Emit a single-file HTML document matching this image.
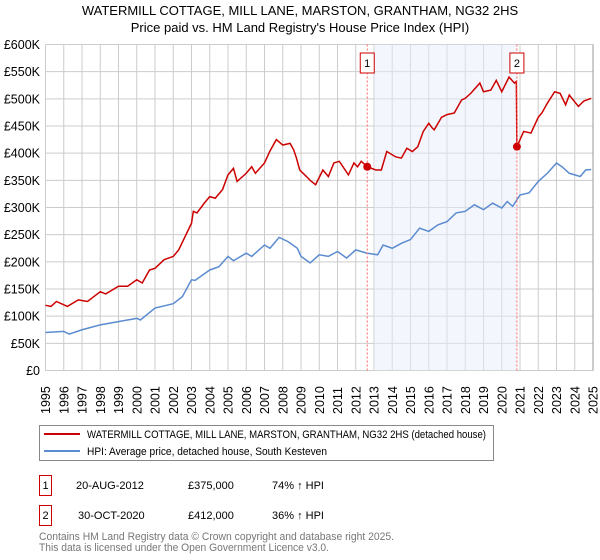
<!DOCTYPE html>
<html><head><meta charset="utf-8"><style>
body{margin:0;background:#fff;}
svg{display:block;font-family:"Liberation Sans",sans-serif;}
</style></head><body>
<svg id="chart" width="600" height="560" viewBox="0 0 600 560" xmlns="http://www.w3.org/2000/svg">
<text x="300" y="15" text-anchor="middle" font-size="13" fill="#000">WATERMILL COTTAGE, MILL LANE, MARSTON, GRANTHAM, NG32 2HS</text>
<text x="300" y="32" text-anchor="middle" font-size="13" fill="#000">Price paid vs. HM Land Registry's House Price Index (HPI)</text>
<g id="grid"></g>
<g id="shade"></g>
<g id="series"></g>
<g id="axes"></g>

<g>
<rect x="39.5" y="425.5" width="454" height="35" fill="#fff" stroke="#888"/>
<line x1="44" y1="434" x2="80" y2="434" stroke="#cc0000" stroke-width="2"/>
<text x="87" y="438" font-size="11" textLength="399" lengthAdjust="spacingAndGlyphs">WATERMILL COTTAGE, MILL LANE, MARSTON, GRANTHAM, NG32 2HS (detached house)</text>
<line x1="44" y1="451" x2="80" y2="451" stroke="#5b8bd0" stroke-width="2"/>
<text x="87" y="455" font-size="11" textLength="240" lengthAdjust="spacingAndGlyphs">HPI: Average price, detached house, South Kesteven</text>
</g>

<g font-size="11">
<rect x="39.5" y="475.5" width="12" height="20" fill="#fff" stroke="#cc0000"/>
<text x="45.5" y="489" text-anchor="middle">1</text>
<text x="76" y="489">20-AUG-2012</text>
<text x="188" y="489">£375,000</text>
<text x="272" y="489">74% ↑ HPI</text>
<rect x="39.5" y="505.5" width="12" height="20" fill="#fff" stroke="#cc0000"/>
<text x="45.5" y="519" text-anchor="middle">2</text>
<text x="78" y="519">30-OCT-2020</text>
<text x="188" y="519">£412,000</text>
<text x="272" y="519">36% ↑ HPI</text>
</g>
<text x="39" y="540" font-size="11" fill="#777" textLength="355" lengthAdjust="spacingAndGlyphs">Contains HM Land Registry data © Crown copyright and database right 2025.</text>
<text x="39" y="551" font-size="11" fill="#777" textLength="290" lengthAdjust="spacingAndGlyphs">This data is licensed under the Open Government Licence v3.0.</text>
</svg>
<script>
const yTicks=[0,50,100,150,200,250,300,350,400,450,500,550,600];
const yTickLabels=["£0","£50K","£100K","£150K","£200K","£250K","£300K","£350K","£400K","£450K","£500K","£550K","£600K"];
const years=[1995,1996,1997,1998,1999,2000,2001,2002,2003,2004,2005,2006,2007,2008,2009,2010,2011,2012,2013,2014,2015,2016,2017,2018,2019,2020,2021,2022,2023,2024,2025];
const hpiT=[1995,1996,1996.3,1997,1998,1999,2000,2000.2,2001,2002,2002.5,2003,2003.2,2004,2004.5,2005,2005.3,2006,2006.3,2007,2007.3,2007.8,2008.3,2008.8,2009,2009.5,2010,2010.5,2011,2011.5,2012,2012.6,2013.2,2013.5,2014,2014.5,2015,2015.5,2016,2016.5,2017,2017.5,2018,2018.5,2019,2019.5,2020,2020.3,2020.6,2021,2021.5,2022,2022.5,2023,2023.3,2023.7,2024,2024.3,2024.6,2024.9];
const hpiV=[70,72,67,75,84,90,96,93,115,123,136,167,166,185,191,210,202,216,210,231,225,245,237,225,210,198,213,210,219,207,222,216,213,231,225,234,241,262,256,268,274,290,293,305,296,308,299,311,302,323,327,348,363,382,375,363,360,357,369,370];
const propT=[1995,1995.3,1995.6,1996.2,1996.8,1997.3,1998,1998.3,1999,1999.5,2000,2000.3,2000.7,2001,2001.5,2002,2002.3,2003,2003.1,2003.3,2003.7,2004,2004.3,2004.7,2005,2005.3,2005.5,2006,2006.3,2006.5,2007,2007.3,2007.65,2008,2008.4,2008.6,2008.75,2008.93,2009.3,2009.5,2009.8,2010.2,2010.5,2010.8,2011.1,2011.6,2011.9,2012.1,2012.3,2012.63,2013.1,2013.4,2013.7,2014.2,2014.5,2014.8,2015.1,2015.4,2015.7,2016.0,2016.2,2016.3,2016.7,2017.0,2017.4,2017.8,2018.0,2018.3,2018.8,2019.0,2019.4,2019.7,2020.0,2020.4,2020.7,2020.8,2020.83,2021.2,2021.6,2022.0,2022.2,2022.5,2022.9,2023.2,2023.5,2023.7,2024.2,2024.5,2024.9];
const propV=[120,118,127,118,130,127,145,141,155,155,167,161,185,188,204,210,222,271,293,290,308,320,317,333,360,372,348,363,375,363,382,404,425,415,418,406,391,369,357,350,342,369,357,382,385,360,382,375,385,375,369,369,403,393,391,409,403,412,440,455,446,443,466,471,474,498,501,510,529,513,516,534,513,540,529,532,412,440,437,466,474,492,513,510,489,507,486,496,501];
const saleT=[2012.63,2020.83];
const saleV=[375,412];
const saleLabels=["1","2"];
const shadeFrom=2013.0, shadeTo=2020.83;

const X0=45.5,X1=593,Y0=370.5,Y1=44.5;
const x=t=>X0+(t-1995)/(2025-1995)*(X1-X0);
const y=v=>Y0-v/600*(Y0-Y1);
const NS="http://www.w3.org/2000/svg";
function mk(tag,attrs,parent){const e=document.createElementNS(NS,tag);for(const k in attrs)e.setAttribute(k,attrs[k]);parent.appendChild(e);return e;}
const grid=document.getElementById('grid'),axes=document.getElementById('axes'),ser=document.getElementById('series'),sh=document.getElementById('shade');
yTicks.forEach((v,i)=>{
  const l=mk('line',{x1:X0,x2:X1,y1:y(v),y2:y(v),stroke:'#cccccc','stroke-width':1},grid);
  
  
  const t=mk('text',{x:40,y:y(v)+4.5,'text-anchor':'end','font-size':12.5,fill:'#000'},axes);
  t.textContent=yTickLabels[i];
  
  
});
years.forEach(yr=>{
  const l=mk('line',{x1:x(yr),x2:x(yr),y1:Y1,y2:Y0,stroke:yr===2025?'#999':'#cccccc','stroke-width':1},grid);
  
  
  const t=mk('text',{x:0,y:0,'font-size':12.5,fill:'#000',transform:`translate(${x(yr)+4.5},${414}) rotate(-90)`},axes);
  t.textContent=yr;
  
  
});
const r=mk('rect',{x:x(shadeFrom),y:Y1,width:x(shadeTo)-x(shadeFrom),height:Y0-Y1,fill:'#e8eefc','fill-opacity':0.5},sh);


const hp=mk('polyline',{points:hpiT.map((t,i)=>x(t)+','+y(hpiV[i])).join(' '),fill:'none',stroke:'#5b8bd0','stroke-width':1.5},ser);


const pp=mk('polyline',{points:propT.map((t,i)=>x(t)+','+y(propV[i])).join(' '),fill:'none',stroke:'#cc0000','stroke-width':1.5},ser);


saleT.forEach((t,i)=>{
  const l=mk('line',{x1:x(t),x2:x(t),y1:Y1,y2:Y0,stroke:'#ff6666','stroke-width':1,'stroke-dasharray':'2,2'},ser);
  
  
  const c=mk('circle',{cx:x(t),cy:y(saleV[i]),r:4,fill:'#cc0000'},ser);
  
  
  const b=mk('rect',{x:x(t)-7,y:53,width:14,height:20,fill:'#fff',stroke:'#cc0000'},ser);
  
  
  const tx=mk('text',{x:x(t),y:67,'text-anchor':'middle','font-size':11},ser);
  tx.textContent=saleLabels[i];
  
  
});
</script>
</body></html>
